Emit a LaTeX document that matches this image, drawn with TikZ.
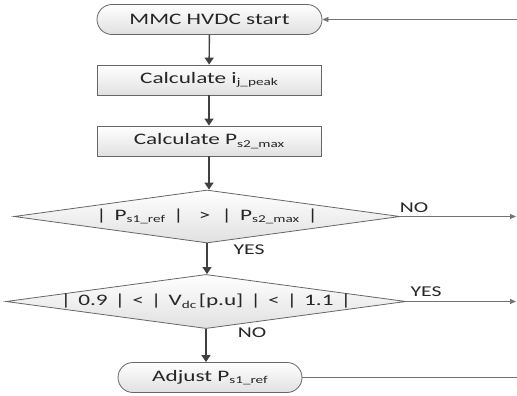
\documentclass[tikz,border=0pt]{standalone}
\usepackage{fontspec}
\setmainfont{Carlito}[FakeStretch=1.45]
\usetikzlibrary{shapes.geometric,arrows.meta}
\newcommand{\lowsub}[1]{\raisebox{-0.35ex}{\fontsize{10.5}{12}\selectfont #1}}
\newcommand{\gp}[1][7pt]{\hspace{#1}}
\begin{document}
\begin{tikzpicture}[x=1pt,y=-1pt,
  every node/.style={font=\fontsize{16}{18}\selectfont, text=black!85},
  shade/.style={top color=white, bottom color=black!12},
  term/.style={shade, draw=black!60, line width=0.8pt, rounded corners=15pt, minimum height=30pt, inner sep=0pt},
  proc/.style={shade, draw=black!60, line width=0.8pt, minimum width=224pt, minimum height=30pt, inner sep=0pt},
  dec/.style={shade, draw=black!60, line width=0.8pt, diamond, aspect=7.3, inner sep=0pt},
  lab/.style={font=\fontsize{15}{16}\selectfont, inner sep=0pt},
  flow/.style={draw=black!75, line width=1.4pt, -{Triangle[length=7pt,width=9pt]}},
  side/.style={draw=black!55, line width=0.8pt, -{Triangle[length=6pt,width=5pt]}},
  sideline/.style={draw=black!55, line width=0.8pt}
]
\useasboundingbox (0,0) rectangle (517,396);
\node[term, minimum width=225pt] (start) at (209.5,19.5) {MMC HVDC start};
\node[proc] (c1) at (209,80) {Calculate i\lowsub{j\_peak}};
\node[proc] (c2) at (209,141) {Calculate P\lowsub{s2\_max}};
\node[dec, minimum width=386pt, minimum height=53pt] (d1) at (207,216.5)
  {|\gp[8pt]P\lowsub{s1\_ref}\gp[8pt]|\gp[15pt]>\gp[11pt]|\gp[8pt]P\lowsub{s2\_max}\gp[8pt]|};
\node[dec, minimum width=400pt, minimum height=50pt] (d2) at (206,301.5)
  {|\gp 0.9\gp |\gp <\gp |\gp V\lowsub{dc}\,[p.u]\gp |\gp <\gp |\gp 1.1\gp |};
\node[term, minimum width=184pt] (adj) at (210,377.5) {Adjust P\lowsub{s1\_ref}};

\coordinate (e0) at (517,19.5);
\coordinate (e1) at (516,216.5);
\coordinate (e2) at (516,301.5);
\coordinate (e3) at (517,377.5);

\draw[flow] (start) -- (c1);
\draw[flow] (c1) -- (c2);
\draw[flow] (c2) -- (c2 |- d1.north);
\draw[flow] (d1) -- (d1 |- d2.north);
\draw[flow] (d2) -- (d2 |- adj.north);

\draw[side] (e0) -- (start.east);
\draw[side] (d1.east) -- (e1);
\draw[side] (d2.east) -- (e2);
\draw[sideline] (adj.east) -- (e3);

\node[lab] (no1) at (414,208) {NO};
\node[lab] (yes1) at (249,250) {YES};
\node[lab] (yes2) at (426,292) {YES};
\node[lab] (no2) at (252,333) {NO};
\end{tikzpicture}
\end{document}
